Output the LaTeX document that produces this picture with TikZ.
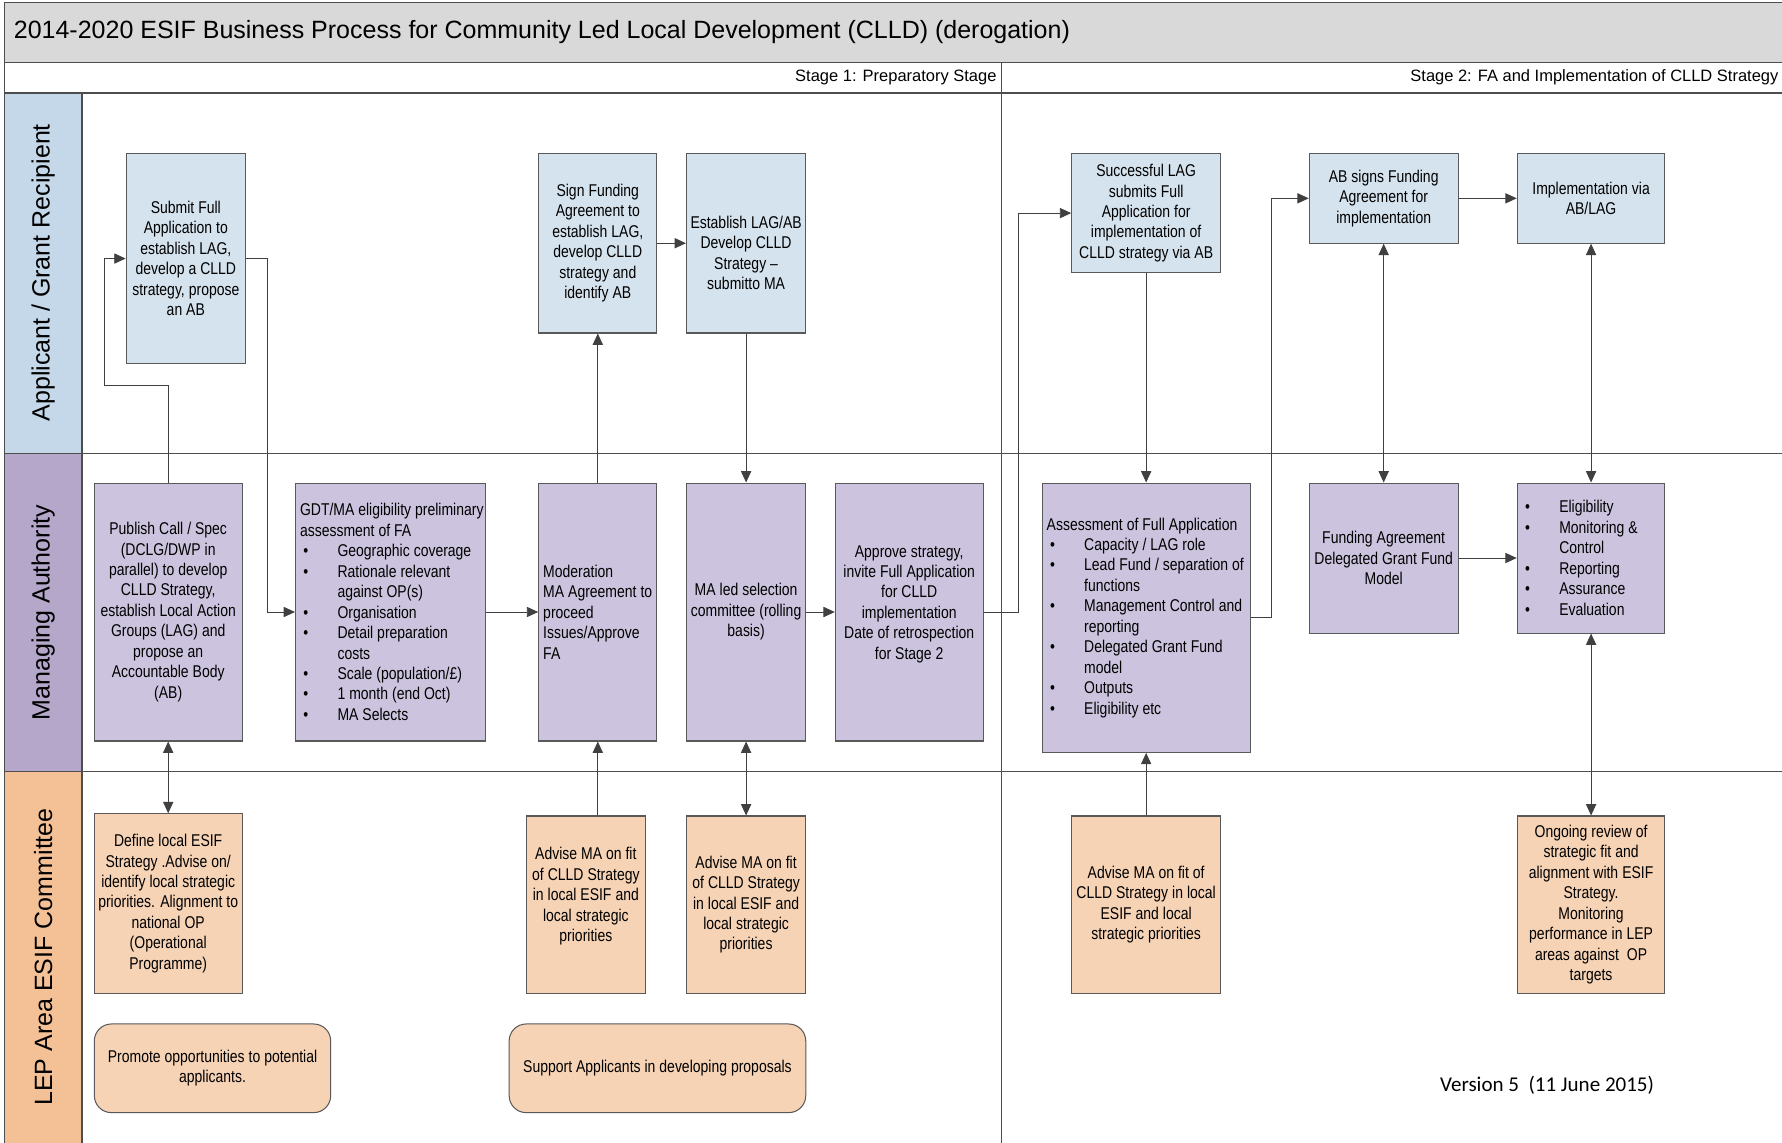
\documentclass[tikz,border=0pt]{standalone}
\usepackage{fontspec}
\setmainfont{Liberation Sans}
\newfontfamily\narrowfont[FakeStretch=0.82]{Liberation Sans}
\newfontfamily\verfont{Carlito}
\usetikzlibrary{arrows.meta}
\definecolor{framegray}{HTML}{4D4D4D}
\definecolor{titlegray}{HTML}{D9D9D9}
\definecolor{laneblue}{HTML}{C4D8E9}
\definecolor{lanepurple}{HTML}{B4A7CA}
\definecolor{laneorange}{HTML}{F4C197}
\definecolor{boxblue}{HTML}{D5E3EE}
\definecolor{boxpurple}{HTML}{CCC4DE}
\definecolor{boxorange}{HTML}{F6D3B5}
\definecolor{boxline}{HTML}{595959}
\definecolor{arrowgray}{HTML}{404040}
\newcommand{\bl}{\makebox[33pt][l]{\hspace*{3pt}•}}
\newcommand{\ind}{\hspace*{33pt}}
\newcommand{\boxfont}{\narrowfont\fontsize{15}{18}\selectfont\spaceskip=3.5pt plus 1pt minus 0.5pt\relax\hyphenpenalty=10000 }
\begin{document}
\begin{tikzpicture}[x=1pt,y=-1pt,
  frame/.style={draw=framegray, line width=1.3pt},
  boxbase/.style={draw=boxline, line width=0.9pt, inner xsep=1pt, inner ysep=4pt, align=center, font=\boxfont},
  bbox/.style={boxbase, fill=boxblue},
  mbox/.style={boxbase, fill=boxpurple},
  leftbox/.style={mbox, align=left, inner xsep=4pt},
  obox/.style={boxbase, fill=boxorange},
  rbox/.style={boxbase, fill=boxorange, rounded corners=15pt},
  lanelabel/.style={rotate=90, font={\fontsize{22}{26}\selectfont}, inner sep=0pt},
  stagelabel/.style={anchor=east, font={\fontsize{14.5}{18}\selectfont}, inner sep=0pt},
  arr/.style={draw=arrowgray, line width=0.8pt, -{Triangle[length=10pt,width=9pt]}},
  darr/.style={draw=arrowgray, line width=0.8pt, {Triangle[length=10pt,width=9pt]}-{Triangle[length=10pt,width=9pt]}}
]
\useasboundingbox (0,0) rectangle (1568,1005);
\clip (0,0) rectangle (1568,1005);
\fill[white] (0,0) rectangle (1568,1005);

% frame and lanes
\draw[frame, fill=titlegray] (4,2) rectangle (1600,55);
\draw[frame] (4,55) rectangle (1600,82);
\draw[frame] (4,82) rectangle (1600,399);
\draw[frame] (4,399) rectangle (1600,679);
\draw[frame] (4,679) rectangle (1600,1020);
\draw[frame, fill=laneblue] (4,82) rectangle (72,399);
\draw[frame, fill=lanepurple] (4,399) rectangle (72,679);
\draw[frame, fill=laneorange] (4,679) rectangle (72,1020);
\draw[frame] (881,55) -- (881,1020);

\node[anchor=west, inner sep=0pt, font={\fontsize{22}{26}\selectfont}] (title) at (12,28)
  {2014-2020 ESIF Business Process for Community Led Local Development (CLLD) (derogation)};
\node[stagelabel] (stage1) at (877,68) {Stage 1: Preparatory Stage};
\node[stagelabel] (stage2) at (1565,68) {Stage 2: FA and Implementation of CLLD Strategy};

\node[lanelabel] (lane1) at (38,240) {Applicant / Grant Recipient};
\node[lanelabel] (lane2) at (38,539) {Managing Authority};
\node[lanelabel] (lane3) at (38,842) {LEP Area ESIF Committee};

% Applicant lane
\node[bbox, minimum width=105pt, minimum height=185pt] (a1) at (163.5,227.5)
  {Submit Full\\ Application to\\ establish LAG,\\ develop a CLLD\\ strategy, propose\\ an AB};
\node[bbox, minimum width=104pt, minimum height=158pt] (a2) at (526,214)
  {Sign Funding\\ Agreement to\\ establish LAG,\\ develop CLLD\\ strategy and\\ identify AB};
\node[bbox, minimum width=105pt, minimum height=158pt] (a3) at (656.5,214)
  {\rule{0pt}{28pt}Establish LAG/AB\\ Develop CLLD\\ Strategy –\\ submitto MA};
\node[bbox, minimum width=131pt, minimum height=105pt] (a4) at (1008.5,187.5)
  {Successful LAG\\ submits Full\\ Application for\\ implementation of\\ CLLD strategy via AB};
\node[bbox, minimum width=131pt, minimum height=79pt] (a5) at (1217.5,174.5)
  {AB signs Funding\\ Agreement for\\ implementation};
\node[bbox, minimum width=130pt, minimum height=79pt] (a6) at (1400,174.5)
  {Implementation via\\ AB/LAG};

% Managing Authority lane
\node[mbox, minimum width=130pt, minimum height=227pt] (m1) at (148,538.5)
  {Publish Call / Spec\\ (DCLG/DWP in\\ parallel) to develop\\ CLLD Strategy,\\ establish Local Action\\ Groups (LAG) and\\ propose an\\ Accountable Body\\ (AB)};
\node[leftbox, minimum width=167pt, minimum height=227pt] (m2) at (343.5,538.5)
  {\makebox[159pt][l]{GDT/MA eligibility preliminary}\\ assessment of FA\\ \bl Geographic coverage\\ \bl Rationale relevant\\ \ind against OP(s)\\ \bl Organisation\\ \bl Detail preparation\\ \ind costs\\ \bl Scale (population/£)\\ \bl 1 month (end Oct)\\ \bl MA Selects};
\node[leftbox, minimum width=104pt, minimum height=227pt] (m3) at (526,538.5)
  {\makebox[96pt][l]{Moderation}\\ MA Agreement to\\ proceed\\ Issues/Approve\\ FA};
\node[mbox, minimum width=105pt, minimum height=227pt] (m4) at (656.5,538.5)
  {MA led selection\\ committee (rolling\\ basis)};
\node[mbox, minimum width=130pt, minimum height=227pt] (m5) at (800,538.5)
  {Approve strategy,\\ invite Full Application\\ for CLLD\\ implementation\\ Date of retrospection\\ for Stage 2\\[-1pt]};
\node[leftbox, minimum width=183pt, minimum height=237pt] (m6) at (1008.5,543.5)
  {\makebox[175pt][l]{Assessment of Full Application}\\ \bl Capacity / LAG role\\ \bl Lead Fund / separation of\\ \ind functions\\ \bl Management Control and\\ \ind reporting\\ \bl Delegated Grant Fund\\ \ind model\\ \bl Outputs\\ \bl Eligibility etc};
\node[mbox, minimum width=131pt, minimum height=132pt] (m7) at (1217.5,491)
  {Funding Agreement\\ Delegated Grant Fund\\ Model};
\node[leftbox, minimum width=130pt, minimum height=132pt] (m8) at (1400,491)
  {\makebox[122pt][l]{\bl Eligibility}\\ \bl Monitoring \&\\ \ind Control\\ \bl Reporting\\ \bl Assurance\\ \bl Evaluation};

% LEP lane
\node[obox, minimum width=130pt, minimum height=158pt] (l1) at (148,795)
  {Define local ESIF\\ Strategy .Advise on/\\ identify local strategic\\ priorities. Alignment to\\ national OP\\ (Operational\\ Programme)};
\node[obox, minimum width=105pt, minimum height=156pt] (l2) at (515.5,796)
  {Advise MA on fit\\ of CLLD Strategy\\ in local ESIF and\\ local strategic\\ priorities\\};
\node[obox, minimum width=105pt, minimum height=156pt] (l3) at (656.5,796)
  {Advise MA on fit\\ of CLLD Strategy\\ in local ESIF and\\ local strategic\\ priorities};
\node[obox, minimum width=131pt, minimum height=156pt] (l4) at (1008.5,796)
  {Advise MA on fit of\\ CLLD Strategy in local\\ ESIF and local\\ strategic priorities};
\node[obox, minimum width=130pt, minimum height=156pt] (l5) at (1400,796)
  {Ongoing review of\\ strategic fit and\\ alignment with ESIF\\ Strategy.\\ Monitoring\\ performance in LEP\\ areas against~~OP\\ targets};
\node[rbox, minimum width=208pt, minimum height=78pt] (r1) at (187,940)
  {Promote opportunities to potential\\ applicants.};
\node[rbox, minimum width=261pt, minimum height=78pt] (r2) at (578.5,940)
  {Support Applicants in developing proposals};

\node[anchor=west, inner sep=0pt, font={\verfont\fontsize{18.5}{22}\selectfont}] (version) at (1267,955)
  {Version 5~~(11 June 2015)};

% connectors
\draw[arr] (m1.north) |- (92,339) |- (a1.west);
\draw[arr] (a1.east) -| (235,538.5) -- (m2.west);
\draw[arr] (m2.east) -- (m3.west);
\draw[arr] (m3.north) -- (a2.south);
\draw[arr] (a2.east) -- (a3.west);
\draw[arr] (a3.south) -- (m4.north);
\draw[arr] (m4.east) -- (m5.west);
\draw[arr] (m5.east) -| (896,187.5) -- (a4.west);
\draw[arr] (a4.south) -- (m6.north);
\draw[arr] (m6.east) -| (1119,174.5) -- (a5.west);
\draw[arr] (a5.east) -- (a6.west);
\draw[darr] (a5.south) -- (m7.north);
\draw[darr] (a6.south) -- (m8.north);
\draw[arr] (m7.east) -- (m8.west);
\draw[darr] (m8.south) -- (l5.north);
\draw[darr] (m1.south) -- (l1.north);
\draw[arr] (m3.south |- l2.north) -- (m3.south);
\draw[darr] (l3.north) -- (m4.south);
\draw[arr] (l4.north) -- (m6.south);
\end{tikzpicture}
\end{document}
